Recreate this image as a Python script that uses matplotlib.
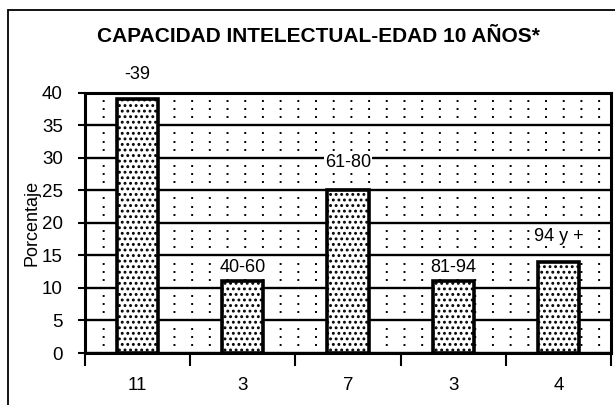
import matplotlib
matplotlib.use("Agg")
import matplotlib.pyplot as plt
from matplotlib.patches import Rectangle
import numpy as np

TITLE = "CAPACIDAD INTELECTUAL-EDAD 10 AÑOS*"
COUNTS = ["11", "3", "7", "3", "4"]
RANGES = ["-39", "40-60", "61-80", "81-94", "94 y +"]
PERCENT = [39, 11, 25, 11, 14]
LABEL_Y = [42.8, 13.1, 29.2, 13.1, 17.9]  # where the range labels sit (data units)

plt.rcParams.update({
    "font.family": ["Liberation Sans", "DejaVu Sans"],
    "hatch.linewidth": 1.3,
})

fig = plt.figure(figsize=(6.15, 4.05), dpi=100)
fig.patch.set_facecolor("white")

# outer chart-area frame (only left/top edges fall inside the image)
fig.patches.append(Rectangle((8 / 615, -0.1), 1.2, 1.1 - 10 / 405,
                             transform=fig.transFigure, fill=False,
                             edgecolor="black", linewidth=1.3))

ax = fig.add_axes([85 / 615, 1 - 353 / 405, (611 - 85) / 615, (353 - 92.7) / 405])

x = np.arange(len(PERCENT))
ax.set_xlim(-0.5, len(PERCENT) - 0.5)
ax.set_ylim(0, 40)

# dotted background lattice
for yy in np.arange(1.25, 40, 1.25):
    if yy % 5 == 0:
        continue
    ax.axhline(yy, color="black", linewidth=1.4, linestyle=(0, (1, 8.1)), zorder=1)

# major gridlines
ax.set_yticks(range(0, 41, 5))
ax.yaxis.grid(True, color="black", linewidth=1.7, zorder=1)
ax.set_axisbelow(True)

ax.bar(x, PERCENT, width=0.39, facecolor="white", edgecolor="black",
       linewidth=2.6, hatch="...", zorder=3)

for xi, lab, ly in zip(x, RANGES, LABEL_Y):
    ax.text(xi, ly, lab, ha="center", va="center", fontsize=13,
            clip_on=False, zorder=4,
            bbox=dict(facecolor="white", edgecolor="none", pad=0.5) if lab != "-39" else None)

for s in ax.spines.values():
    s.set_linewidth(2.2)

ax.set_xticks(np.arange(-0.5, len(PERCENT), 1.0))
ax.set_xticklabels([])
ax.set_xticks(x, minor=True)
ax.set_xticklabels(COUNTS, minor=True, fontsize=13.5)
ax.tick_params(axis="x", which="major", direction="out", length=9, width=1.5)
ax.tick_params(axis="x", which="minor", length=0, pad=17)
ax.tick_params(axis="y", direction="out", length=5, width=1.5, labelsize=13.5, pad=11)

ax.set_ylabel("Porcentaje", fontsize=13)
ax.yaxis.set_label_coords((40 - 85) / 526, 0.5)

fig.text(318 / 615, 1 - 36 / 405, TITLE, ha="center", va="center",
         fontsize=15, fontweight="bold")

fig.savefig("out.png", dpi=100)
